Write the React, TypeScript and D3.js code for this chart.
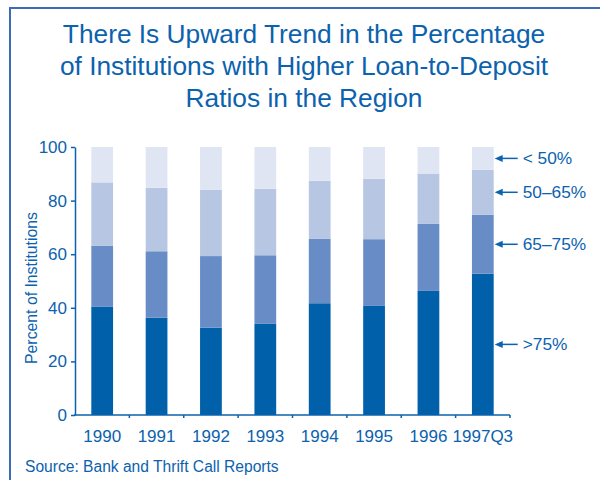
import React, { useEffect, useRef } from 'react';
import * as d3 from 'd3';

const years = ['1990', '1991', '1992', '1993', '1994', '1995', '1996', '1997Q3'];
// percent of institutions by loan-to-deposit ratio band
const over75 = [40.5, 36.3, 32.6, 34.0, 41.7, 40.7, 46.3, 52.7];
const r65to75 = [22.6, 24.8, 26.7, 25.6, 24.0, 24.9, 25.0, 22.0];
const r50to65 = [23.7, 23.7, 24.7, 24.8, 21.7, 22.6, 18.8, 16.8];
const under50 = [13.2, 15.2, 16.0, 15.6, 12.6, 11.8, 9.9, 8.5];

const seriesKeys = ['over75', 'r65to75', 'r50to65', 'under50'];
const seriesLabels = ['>75%', '65–75%', '50–65%', '< 50%'];
const seriesColors = ['#0060aa', '#688dc6', '#b7c6e3', '#dfe5f3'];
const yTicks = [0, 20, 40, 60, 80, 100];

const titleLines = [
  'There Is Upward Trend in the Percentage',
  'of Institutions with Higher Loan-to-Deposit',
  'Ratios in the Region',
];

const FONT = '"Liberation Sans", Arial, Helvetica, sans-serif';
const BLUE = '#0b62ae';

export default function App() {
  const svgRef = useRef<SVGSVGElement>(null);
  const width = 600;
  const height = 480;

  useEffect(() => {
    const svg = d3.select(svgRef.current);
    svg.selectAll('*').remove();

    const margin = { left: 75, right: 90, top: 147, bottom: 65 };
    const x0 = margin.left;
    const x1 = width - margin.right;
    const yBottom = height - margin.bottom;

    const rows = years.map((year, i) => ({
      year,
      over75: over75[i],
      r65to75: r65to75[i],
      r50to65: r50to65[i],
      under50: under50[i],
    }));

    const stacked = d3.stack<any>().keys(seriesKeys)(rows);

    const x = d3.scaleBand()
      .domain(years)
      .range([x0, x1])
      .paddingInner(0.6)
      .paddingOuter(0.3);

    const y = d3.scaleLinear()
      .domain([0, 100])
      .range([yBottom, margin.top]);

    // frame
    svg.append('path')
      .attr('d', `M10,${height + 2} L10,8 L${width + 2},8`)
      .attr('fill', 'none')
      .attr('stroke', '#3a6cb8')
      .attr('stroke-width', 2);

    // title
    svg.append('g')
      .selectAll('text')
      .data(titleLines)
      .enter()
      .append('text')
      .attr('x', 304)
      .attr('y', (d, i) => 43 + i * 32)
      .attr('text-anchor', 'middle')
      .attr('font-family', FONT)
      .attr('font-size', 26.3)
      .attr('fill', BLUE)
      .text(d => d);

    // bars
    svg.append('g')
      .selectAll('g')
      .data(stacked)
      .enter()
      .append('g')
      .attr('fill', (d, i) => seriesColors[i])
      .selectAll('rect')
      .data(d => d)
      .enter()
      .append('rect')
      .attr('x', d => x(d.data.year) as number)
      .attr('y', d => y(d[1]))
      .attr('width', x.bandwidth())
      .attr('height', d => y(d[0]) - y(d[1]));

    // y axis
    const yAxis = svg.append('g')
      .attr('transform', `translate(${x0},0)`)
      .call(d3.axisLeft(y).tickValues(yTicks).tickSize(4).tickSizeOuter(0).tickPadding(4));
    yAxis.selectAll('path, line').attr('stroke', BLUE).attr('stroke-width', 1.5);
    yAxis.selectAll('text')
      .attr('font-family', FONT)
      .attr('font-size', 17)
      .attr('fill', BLUE);

    // x axis
    const step = x.step();
    const boundaries = d3.range(1, years.length + 1).map(i => x0 + i * step);
    const xAxis = svg.append('g');
    xAxis.append('line')
      .attr('x1', x0 - 1)
      .attr('x2', x1)
      .attr('y1', yBottom)
      .attr('y2', yBottom)
      .attr('stroke', BLUE)
      .attr('stroke-width', 1.5);
    xAxis.selectAll('line.tick')
      .data(boundaries)
      .enter()
      .append('line')
      .attr('class', 'tick')
      .attr('x1', d => d)
      .attr('x2', d => d)
      .attr('y1', yBottom)
      .attr('y2', yBottom + 3)
      .attr('stroke', BLUE)
      .attr('stroke-width', 1.5);
    xAxis.selectAll('text')
      .data(years)
      .enter()
      .append('text')
      .attr('x', d => (x(d) as number) + x.bandwidth() / 2)
      .attr('y', yBottom + 27)
      .attr('text-anchor', 'middle')
      .attr('font-family', FONT)
      .attr('font-size', 17)
      .attr('fill', BLUE)
      .text(d => d);

    // y axis title
    svg.append('text')
      .attr('transform', `translate(37,${(yBottom + margin.top) / 2 + 7}) rotate(-90)`)
      .attr('text-anchor', 'middle')
      .attr('font-family', FONT)
      .attr('font-size', 15.8)
      .attr('fill', BLUE)
      .text('Percent of Institutions');

    // arrow labels pointing at the last bar
    const last = years.length - 1;
    const arrowX = (x(years[last]) as number) + x.bandwidth() + 1;
    const labels = svg.append('g')
      .selectAll('g')
      .data(stacked)
      .enter()
      .append('g')
      .attr('transform', d => `translate(${arrowX},${y((d[last][0] + d[last][1]) / 2)})`);
    labels.append('line')
      .attr('x1', 6)
      .attr('x2', 23)
      .attr('y1', 0)
      .attr('y2', 0)
      .attr('stroke', BLUE)
      .attr('stroke-width', 1.5);
    labels.append('path')
      .attr('d', 'M0,0 L8,-3.5 L8,3.5 Z')
      .attr('fill', BLUE);
    labels.append('text')
      .attr('x', 28)
      .attr('dy', '0.35em')
      .attr('font-family', FONT)
      .attr('font-size', 17.3)
      .attr('fill', BLUE)
      .text((d, i) => seriesLabels[i]);

    // source
    svg.append('text')
      .attr('x', 25)
      .attr('y', 472)
      .attr('font-family', FONT)
      .attr('font-size', 15.6)
      .attr('fill', BLUE)
      .text('Source: Bank and Thrift Call Reports');
  }, []);

  return (
    <svg
      ref={svgRef}
      width={width}
      height={height}
      style={{ position: 'absolute', left: 0, top: 0, background: '#fff' }}
    ></svg>
  );
}
